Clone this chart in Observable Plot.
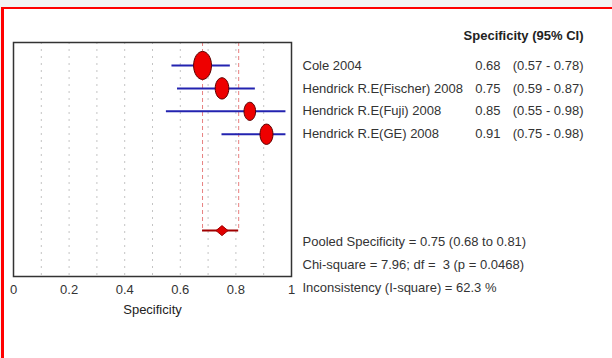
<!DOCTYPE html>
<html>
<head>
<meta charset="utf-8">
<script src="https://cdn.jsdelivr.net/npm/d3@7"></script>
<script src="https://cdn.jsdelivr.net/npm/@observablehq/plot@0.6"></script>
<style>
  html, body { margin: 0; padding: 0; width: 612px; height: 358px; overflow: hidden; background: #f3f3f3; }
  #sheet { position: absolute; left: 1px; top: 7px; width: 611px; height: 351px; background: #fff;
           border-top: 2px solid #ff0000; border-left: 3px solid #ff0000; box-sizing: border-box; }
  #chart { position: absolute; left: 0; top: 0; }
</style>
</head>
<body>
<div id="sheet"></div>
<div id="chart"></div>
<script>
// ---- data ----
const studies = ["Cole 2004", "Hendrick R.E(Fischer) 2008", "Hendrick R.E(Fuji) 2008", "Hendrick R.E(GE) 2008"];
const specificity = [0.68, 0.75, 0.85, 0.91];
const ciLow = [0.57, 0.59, 0.55, 0.75];
const ciHigh = [0.78, 0.87, 0.98, 0.98];
const weights = [38, 22, 16, 20];
const studyRows = [1, 2, 3, 4];
const valueLabels = ["0.68", "0.75", "0.85", "0.91"];
const ciLabels = ["(0.57 - 0.78)", "(0.59 - 0.87)", "(0.55 - 0.98)", "(0.75 - 0.98)"];
const pooled = [0.75];
const pooledLow = 0.68;
const pooledHigh = 0.81;
const pooledRow = 8.2;
const headerRow = -0.3;
const headerText = "Specificity (95% CI)";
const statLines = [
  "Pooled Specificity = 0.75 (0.68 to 0.81)",
  "Chi-square = 7.96; df =  3 (p = 0.0468)",
  "Inconsistency (I-square) = 62.3 %"
];
const statRows = [8.7, 9.7, 10.7];
const xTicks = [0, 0.2, 0.4, 0.6, 0.8, 1];
const gridTicks = [0.1, 0.2, 0.3, 0.4, 0.5, 0.6, 0.7, 0.8, 0.9];
const xLabel = "Specificity";

// ---- symbols ----
const ellipse = {
  draw(ctx, size) {
    const r = Math.sqrt(size / Math.PI);
    const rx = r * 0.64, ry = r, k = 0.5523;
    ctx.moveTo(rx, 0);
    ctx.bezierCurveTo(rx, ry * k, rx * k, ry, 0, ry);
    ctx.bezierCurveTo(-rx * k, ry, -rx, ry * k, -rx, 0);
    ctx.bezierCurveTo(-rx, -ry * k, -rx * k, -ry, 0, -ry);
    ctx.bezierCurveTo(rx * k, -ry, rx, -ry * k, rx, 0);
    ctx.closePath();
  }
};
const flatDiamond = {
  draw(ctx, size) {
    const r = Math.sqrt(size / Math.PI);
    ctx.moveTo(r * 1.2, 0);
    ctx.lineTo(0, r);
    ctx.lineTo(-r * 1.2, 0);
    ctx.lineTo(0, -r);
    ctx.closePath();
  }
};

const FONT = "'Liberation Sans', Arial, sans-serif";
const idx = studies.map((_, i) => i);

const chart = Plot.plot({
  width: 612,
  height: 358,
  marginLeft: 13,
  marginRight: 321,
  marginTop: 42,
  marginBottom: 82,
  style: { background: "transparent", fontFamily: FONT, fontSize: "13px", color: "#333", overflow: "visible" },
  x: { domain: [0, 1], axis: null },
  y: { domain: [0, 10.2], reverse: true, axis: null },
  r: { type: "sqrt", domain: [0, 38], range: [0, 14] },
  marks: [
    Plot.ruleX(gridTicks, { stroke: "#c4c4c4", strokeWidth: 1, strokeDasharray: "2,5" }),
    Plot.ruleX([pooledLow, pooledHigh], { y1: 0, y2: pooledRow, stroke: "#e88080", strokeWidth: 1, strokeDasharray: "4,3" }),
    Plot.ruleY(idx, { y: i => studyRows[i], x1: i => ciLow[i], x2: i => ciHigh[i], stroke: "#2323b0", strokeWidth: 2 }),
    Plot.dot(idx, { x: i => specificity[i], y: i => studyRows[i], r: i => weights[i], symbol: ellipse, fill: "#ee0000", stroke: "#5a0000", strokeWidth: 1 }),
    Plot.ruleY([pooledRow], { x1: pooledLow, x2: pooledHigh, stroke: "#a00000", strokeWidth: 2 }),
    Plot.dot(pooled, { x: d => d, y: pooledRow, r: 5, symbol: flatDiamond, fill: "#e00000", stroke: "#a00000", strokeWidth: 1 }),
    Plot.frame({ stroke: "#333", strokeWidth: 1.5 }),
    Plot.axisX(xTicks, { tickSize: 0, tickPadding: 8, tickFormat: d => String(d), fill: "#333", fontSize: 13, label: null }),
    Plot.text([xLabel], { frameAnchor: "bottom", dy: 37, fill: "#222", fontSize: 13 }),
    Plot.text([headerText], { y: headerRow, frameAnchor: "right", dx: 292, textAnchor: "end", fontWeight: "bold", fill: "#222", fontSize: 13 }),
    Plot.text(idx, { y: i => studyRows[i], text: i => studies[i], frameAnchor: "right", dx: 11, textAnchor: "start", fill: "#333" }),
    Plot.text(idx, { y: i => studyRows[i], text: i => valueLabels[i], frameAnchor: "right", dx: 209, textAnchor: "end", fill: "#333" }),
    Plot.text(idx, { y: i => studyRows[i], text: i => ciLabels[i], frameAnchor: "right", dx: 292, textAnchor: "end", fill: "#333" }),
    Plot.text(statLines, { y: (d, i) => statRows[i], text: d => d, frameAnchor: "right", dx: 11, textAnchor: "start", fill: "#333" })
  ]
});
document.getElementById("chart").appendChild(chart);
</script>
</body>
</html>
